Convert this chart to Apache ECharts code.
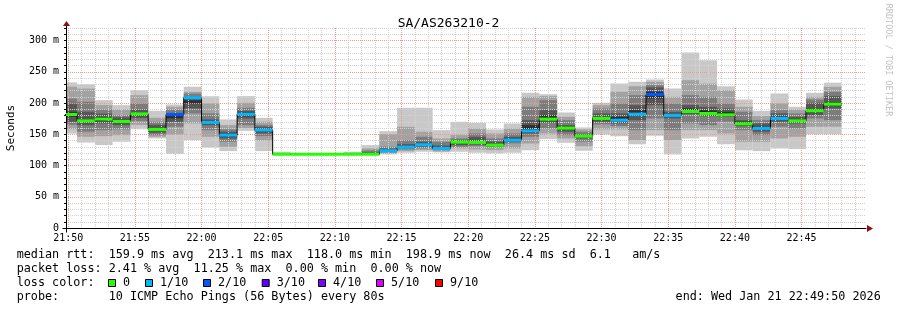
<!DOCTYPE html>
<html><head><meta charset="utf-8">
<script src="https://cdn.jsdelivr.net/npm/echarts@6/dist/echarts.min.js"></script>
<style>html,body{margin:0;padding:0;background:#fff;}#c{width:897px;height:310px;}</style>
</head><body><div id="c"></div>
<script>
// ---- data ----
const TITLE = 'SA/AS263210-2';
const AXIS_START = 78590;   // 21:49:50 (seconds of day)
const AXIS_END = 82190;     // 22:49:50
const FIRST_BIN = 78560;    // start of first 80 s step
const STEP = 80;
const Y_MAX = 320;

const median = [181.6,171.5,174.2,170.5,182.7,157.7,181.6,208.3,168.9,148.6,182.2,156.6,
  118,118,118,118,118,118,123.6,129.4,133.2,127.3,137.4,136.9,132.6,140.6,155.5,174.2,
  159.8,147,175.3,172.6,182.2,213.6,180.1,186.4,183.3,181.1,166.7,159.3,175.3,171.5,187.5,198.2];

const lossTenths = [0,0,0,0,0,0,2,1,1,1,1,1,
  0,0,0,0,0,0,1,1,1,1,0,0,0,1,1,0,
  0,0,0,1,1,2,1,0,0,0,0,1,1,0,0,0];

const pings = [
  [151,158,165,170,178,186,199,207,226,233],
  [137,146,154,164.6,169,174,186,202,223,230],
  [132.6,147,156.6,167.3,172,177,183,189.6,196.6,204.6],
  [138,148.6,157.7,164.6,168,173,177,180.6,189.6,196.6],
  [158,165,171,176,180,185,189.6,199.2,212.5,220.5],
  [143.3,146,148.6,152.4,155.5,160,165,170,176.3,187.5],
  [118.3,149.7,162,170,175.3,183,184.3,189.6,194,197.6],
  [140.6,167.3,183.3,191.2,199.2,204.5,210,215,217.9,225.9],
  [128.9,146,156.6,164.6,167,171,173.7,183.3,199.2,211],
  [123,130,138,143.3,146,151,154,157.7,164.6,173.7],
  [155.5,160,164.6,175.3,179,185,187.5,192.3,200.3,211],
  [123,140,147,151.3,154,159,162,164.6,170,176.3],
  [118,118,118,118,118,118.3,118.6,119,120,122],
  [118,118,118,118,118,118,118.2,118.4,118.8,119.5],
  [118,118,118,118,118,118,118.2,118.5,119,119.6],
  [118,118,118,118,118,118,118.3,118.6,119,120],
  [118,118,118,118,118,118.5,119,119.5,120.5,122],
  [117.5,118,118,118,118,119,121,124,127.3,132.6],
  [117.7,119,121,122,123,125,127,130,150,155],
  [120.4,123,125.7,127.5,128.5,131,134.2,140.6,161.9,192.3],
  [122,125,127.3,130,132,135,138,146,154,192.3],
  [121,122.5,124.6,126,127,129,132,138,143.3,156.6],
  [122,127.3,130,132.6,136,139,141,143.3,148.6,170],
  [120.4,125.7,131,133.5,135.5,139,146,151.3,159.3,168.3],
  [119.3,124.6,128.9,130.5,131.8,134,138,143.3,151.3,157.7],
  [120.4,127.3,135.3,138,140,143,146,151.3,159.3,167.3],
  [124.6,135.3,146,151.3,154,164.6,172.6,193.9,209.9,216.3],
  [142.2,151.3,159.3,168.3,172.5,180.6,188.6,204.5,211,214.1],
  [136.4,143.3,148.6,154,158,162,164.6,172.6,177.9,184.8],
  [123.6,131,138,143.3,146,148.5,150.2,154,157.7,160.9],
  [149.7,157.7,165.7,170,174,177,183.3,191.2,196.6,200.3],
  [147,157.7,163,167.3,171,178,183.3,199.2,217.9,231.2],
  [134.2,140.6,156.6,172.6,180,188.6,196.6,212.5,227,233.9],
  [147.6,156.6,175.3,196.6,207.2,218,225,228.5,233.9,237.6],
  [117.7,140.6,156.6,175.3,178,182,185.9,199.2,209.9,223.2],
  [143.3,156.6,167.3,182.2,185,191.2,196.6,212.5,236.5,281],
  [146,156.6,164.6,179,182,188.6,193.9,209.9,231,268.5],
  [134.2,151.3,170,177.9,180,185.9,191.2,199.2,220.5,226.9],
  [124.6,138,156.6,163,165.5,170,172.6,185.9,193.9,205.6],
  [123,138,148.6,154,157.5,162,167.3,172.6,179,187.5],
  [127.3,143.3,162,170,173.5,178,183.3,188.6,199.2,215.2],
  [126.3,146,159.3,167.3,170,174,178,183.3,189.6,193.9],
  [150.2,162,175.3,180.6,185,190,200.3,205.6,209.9,216.3],
  [150.2,162,172.6,191.2,196,201,211,217.9,225.9,232.3]
];

const lossLabels = ['0','1/10','2/10','3/10','4/10','5/10','9/10'];
const lossColors = ['#26ff00','#00b8ff','#0059ff','#5e00ff','#7e00ff','#dd00ff','#ff0000'];
const statLines = [
  'median rtt:  159.9 ms avg  213.1 ms max  118.0 ms min  198.9 ms now  26.4 ms sd  6.1   am/s',
  'packet loss: 2.41 % avg  11.25 % max  0.00 % min  0.00 % now',
  'loss color:',
  'probe:       10 ICMP Echo Pings (56 Bytes) every 80s'
];
const endText = 'end: Wed Jan 21 22:49:50 2026';
const sideText = 'RRDTOOL / TOBI OETIKER';

// ---- styles ----
const MONO = '"DejaVu Sans Mono", monospace';
const MAJOR = '#eb9a9a';
const MINOR = '#d2d2d2';
const NONE = 'rgba(0,0,0,0)';
const smokeColors = ['#c8c8c8','#a2a2a2','#7c7c7c','#565656','#303030'];

const xSplitColors = [];
for (let i = 0; i < 30; i++) {
  const t = AXIS_START + i * 10;
  xSplitColors.push(t % 300 === 0 ? MAJOR : (t % 60 === 0 ? MINOR : NONE));
}
const ySplitColors = [MAJOR, MINOR, MINOR, MINOR, MINOR];

const binData = median.map((m, i) => [FIRST_BIN + i * STEP, FIRST_BIN + (i + 1) * STEP, m, lossTenths[i]]);
const stepData = median.map((m, i) => [FIRST_BIN + i * STEP, m]);
stepData.push([FIRST_BIN + median.length * STEP, median[median.length - 1]]);

function lossColor(l) {
  const idx = lossLabels.indexOf(l === 0 ? '0' : l + '/10');
  return lossColors[idx >= 0 ? idx : 6];
}

const chart = echarts.init(document.getElementById('c'), null, {renderer: 'canvas'});
const option = {
  animation: false,
  backgroundColor: '#ffffff',
  title: {
    text: TITLE, left: 'center', top: 12,
    textStyle: {fontFamily: MONO, fontSize: 13, fontWeight: 'normal', color: '#000'}
  },
  grid: {left: 66, right: 31, top: 28, bottom: 82, containLabel: false, outerBoundsMode: 'none'},
  xAxis: {
    type: 'value', min: AXIS_START, max: AXIS_END, interval: 10,
    axisLine: {show: true, lineStyle: {color: '#000', width: 1}},
    axisTick: {show: false},
    axisLabel: {
      fontFamily: MONO, fontSize: 10, color: '#000', margin: 5,
      formatter: v => {
        v = Math.round(v);
        if (v % 300 !== 0) return '';
        const h = Math.floor(v / 3600), m = Math.floor((v % 3600) / 60);
        return h + ':' + String(m).padStart(2, '0');
      }
    },
    splitLine: {show: true, lineStyle: {color: xSplitColors, width: 1, type: [1, 1]}}
  },
  yAxis: {
    type: 'value', min: 0, max: Y_MAX, interval: 10,
    name: 'Seconds', nameLocation: 'middle', nameGap: 49,
    nameTextStyle: {fontFamily: MONO, fontSize: 11, color: '#000'},
    axisLine: {show: true, lineStyle: {color: '#000', width: 1}},
    axisTick: {show: true, length: 2, lineStyle: {color: '#000'}},
    axisLabel: {
      fontFamily: MONO, fontSize: 10, color: '#000', margin: 7,
      formatter: v => (v % 50 !== 0 ? '' : (v === 0 ? '0' : v + ' m'))
    },
    splitLine: {show: true, lineStyle: {color: ySplitColors, width: 1, type: [1, 1]}}
  },
  series: [
    {
      type: 'custom', name: 'smoke', z: -1, clip: true,
      data: binData, encode: {x: [0, 1], y: 2},
      renderItem: (params, api) => {
        const i = params.dataIndex;
        const p = pings[i];
        const cs = params.coordSys;
        const x0 = api.value(0), x1 = api.value(1);
        const children = [];
        for (let j = 0; j < 5; j++) {
          const a = api.coord([x0, p[9 - j]]);
          const b = api.coord([x1, p[j]]);
          const left = Math.max(a[0], cs.x);
          children.push({
            type: 'rect',
            shape: {x: left, y: a[1], width: b[0] - left, height: Math.max(b[1] - a[1], 0.5)},
            style: {fill: smokeColors[j]}
          });
        }
        return {type: 'group', children};
      }
    },
    {
      type: 'line', name: 'median', step: 'end', data: stepData, symbol: 'none',
      lineStyle: {color: '#000', width: 1}, z: 3, clip: true
    },
    {
      type: 'custom', name: 'loss', z: 4, clip: true,
      data: binData, encode: {x: [0, 1], y: 2},
      renderItem: (params, api) => {
        const cs = params.coordSys;
        const a = api.coord([api.value(0), api.value(2)]);
        const b = api.coord([api.value(1), api.value(2)]);
        const left = Math.max(a[0], cs.x);
        return {
          type: 'rect',
          shape: {x: left, y: a[1] - 1.5, width: b[0] - left, height: 3},
          style: {fill: lossColor(api.value(3))}
        };
      }
    }
  ]
};
chart.setOption(option);

// ---- decorations placed from the axes ----
const pTop = chart.convertToPixel({gridIndex: 0}, [AXIS_START, Y_MAX]);
const pEnd = chart.convertToPixel({gridIndex: 0}, [AXIS_END, 0]);
const ax = Math.round(pTop[0]) + 0.5;
const ay = Math.round(pEnd[1]) + 0.5;
const graphics = [
  {type: 'line', shape: {x1: ax, y1: pTop[1], x2: ax, y2: pTop[1] - 2}, style: {stroke: '#000', lineWidth: 1}},
  {type: 'polygon', shape: {points: [[ax - 3.5, pTop[1] - 2], [ax + 3.5, pTop[1] - 2], [ax, pTop[1] - 7]]}, style: {fill: '#8b1010'}},
  {type: 'polygon', shape: {points: [[pEnd[0] + 1, ay - 3.5], [pEnd[0] + 1, ay + 3.5], [pEnd[0] + 7, ay]]}, style: {fill: '#8b1010'}},
  {type: 'line', shape: {x1: ax - 4, y1: ay, x2: ax, y2: ay}, style: {stroke: '#000', lineWidth: 1}},
  {type: 'line', shape: {x1: ax, y1: ay, x2: ax, y2: ay + 4}, style: {stroke: '#000', lineWidth: 1}},
  {type: 'text', x: 888, y: 60, rotation: -Math.PI / 2,
    style: {text: sideText, font: '8.5px ' + MONO, fill: '#c4c4c4', align: 'center', verticalAlign: 'middle'}}
];
const rowY = [255, 268.8, 283, 297];
const FS = '11.75px ' + MONO;
statLines.forEach((t, i) => {
  graphics.push({type: 'text', x: 16.7, y: rowY[i], style: {text: t, font: FS, fill: '#000', verticalAlign: 'middle'}});
});
const legendX = [123, 160, 218, 276.7, 333, 391, 450];
lossLabels.forEach((lab, i) => {
  graphics.push({type: 'rect', shape: {x: legendX[i] - 14.5, y: 279.5, width: 7, height: 7},
    style: {fill: lossColors[i], stroke: '#000', lineWidth: 1}});
  graphics.push({type: 'text', x: legendX[i], y: rowY[2], style: {text: lab, font: FS, fill: '#000', verticalAlign: 'middle'}});
});
graphics.push({type: 'text', x: 880.7, y: rowY[3], style: {text: endText, font: FS, fill: '#000', align: 'right', verticalAlign: 'middle'}});
chart.setOption({graphic: graphics});
</script></body></html>
